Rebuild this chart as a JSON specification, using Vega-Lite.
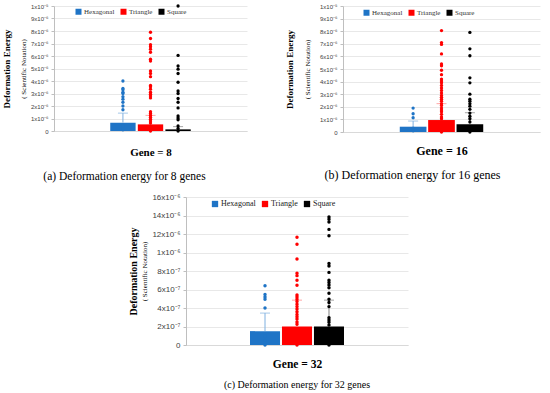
{
  "$schema": "https://vega.github.io/schema/vega-lite/v6.json",
  "background": "white",
  "padding": {"left": 2, "top": 3, "right": 2, "bottom": 2},
  "config": {
    "view": {"stroke": null},
    "axis": {"labelFont": "Liberation Sans", "titleFont": "Liberation Serif", "titleColor": "#000000"},
    "title": {"font": "Liberation Serif", "color": "#000000"}
  },
  "spacing": 10,
  "center": true,
  "resolve": {"scale": {"x": "independent", "y": "independent", "color": "independent", "stroke": "independent", "fill": "independent"}, "legend": {"color": "independent"}},
  "vconcat": [
    {
      "spacing": 38,
      "resolve": {"scale": {"x": "independent", "y": "independent", "color": "independent", "stroke": "independent", "fill": "independent"}, "legend": {"color": "independent"}},
      "hconcat": [
        {
          "width": 193,
          "height": 125,
          "title": {"text": "(a) Deformation energy for 8 genes", "orient": "bottom", "frame": "bounds", "font": "Liberation Serif", "fontSize": 11.5, "fontWeight": "normal", "offset": 14},
          "resolve": {"axis": {"y": "independent"}},
          "encoding": {
            "x": {"field": "shape", "type": "nominal", "scale": {"domain": ["_1", "_2", "Hexagonal", "Triangle", "Square", "_3", "_4"], "paddingInner": 0.08, "paddingOuter": 0.04}, "axis": {"title": "Gene = 8", "labels": false, "ticks": false, "domainColor": "#d9d9d9", "titleFont": "Liberation Serif", "titleFontSize": 11, "titleFontWeight": "bold", "titlePadding": 15}}
          },
          "layer": [
            {
              "data": {"values": [{"shape": "Hexagonal", "mean": 0.67, "upper": 1.43}, {"shape": "Triangle", "mean": 0.53, "upper": 1.25}, {"shape": "Square", "mean": 0.13, "upper": 0.35}]},
              "mark": {"type": "bar"},
              "encoding": {
                "y": {"field": "mean", "type": "quantitative", "scale": {"domain": [0, 10], "nice": false}, "axis": {"values": [0, 1, 2, 3, 4, 5, 6, 7, 8, 9, 10], "labelExpr": "datum.value == 0 ? '0' : datum.value == 10 ? '1x10⁻⁵' : datum.value + 'x10⁻⁶'", "labelFontSize": 6, "labelColor": "#404040", "labelPadding": 3, "tickSize": 3, "tickColor": "#bfbfbf", "domainColor": "#bfbfbf", "grid": true, "gridColor": "#e8e8e8", "title": "( Scientific Notation)", "titleFont": "Liberation Serif", "titleFontSize": 7, "titleFontWeight": "normal", "titlePadding": 4}},
                "color": {"field": "shape", "type": "nominal", "scale": {"domain": ["Hexagonal", "Triangle", "Square"], "range": ["#1f74c6", "#ff0000", "#000000"]}, "legend": {"orient": "none", "legendX": 21, "legendY": 2, "direction": "horizontal", "title": null, "symbolType": "square", "symbolSize": 36, "symbolStrokeWidth": 0, "labelFont": "Liberation Serif", "labelFontSize": 7, "labelColor": "#333333", "labelOffset": 2, "columnPadding": 5}}
              }
            },
            {
              "data": {"values": [{"shape": "Hexagonal", "mean": 0.67, "upper": 1.43}, {"shape": "Triangle", "mean": 0.53, "upper": 1.25}, {"shape": "Square", "mean": 0.13, "upper": 0.35}]},
              "mark": {"type": "rule", "strokeWidth": 1},
              "encoding": {
                "y": {"field": "mean", "type": "quantitative", "axis": null},
                "y2": {"field": "upper"},
                "stroke": {"field": "shape", "type": "nominal", "scale": {"domain": ["Hexagonal", "Triangle", "Square"], "range": ["#7fb0e0", "#ff8080", "#808080"]}, "legend": null}
              }
            },
            {
              "data": {"values": [{"shape": "Hexagonal", "mean": 0.67, "upper": 1.43}, {"shape": "Triangle", "mean": 0.53, "upper": 1.25}, {"shape": "Square", "mean": 0.13, "upper": 0.35}]},
              "mark": {"type": "tick", "size": 10, "thickness": 1},
              "encoding": {
                "y": {"field": "upper", "type": "quantitative", "axis": null},
                "fill": {"field": "shape", "type": "nominal", "scale": {"domain": ["Hexagonal", "Triangle", "Square"], "range": ["#7fb0e0", "#ff8080", "#808080"]}, "legend": null}
              }
            },
            {
              "data": {"values": [
                {"shape": "Hexagonal", "v": 4.0}, {"shape": "Hexagonal", "v": 3.4}, {"shape": "Hexagonal", "v": 3.3}, {"shape": "Hexagonal", "v": 3.1}, {"shape": "Hexagonal", "v": 3.0}, {"shape": "Hexagonal", "v": 2.75}, {"shape": "Hexagonal", "v": 2.55}, {"shape": "Hexagonal", "v": 2.3}, {"shape": "Hexagonal", "v": 2.0}, {"shape": "Hexagonal", "v": 1.7}, {"shape": "Hexagonal", "v": 0.4}, {"shape": "Hexagonal", "v": 0.1},
                {"shape": "Triangle", "v": 7.9}, {"shape": "Triangle", "v": 7.4}, {"shape": "Triangle", "v": 6.9}, {"shape": "Triangle", "v": 6.75}, {"shape": "Triangle", "v": 6.55}, {"shape": "Triangle", "v": 6.3}, {"shape": "Triangle", "v": 5.75}, {"shape": "Triangle", "v": 5.6}, {"shape": "Triangle", "v": 4.8}, {"shape": "Triangle", "v": 4.6}, {"shape": "Triangle", "v": 4.35}, {"shape": "Triangle", "v": 3.65}, {"shape": "Triangle", "v": 3.55}, {"shape": "Triangle", "v": 3.35}, {"shape": "Triangle", "v": 3.1}, {"shape": "Triangle", "v": 2.95}, {"shape": "Triangle", "v": 2.8}, {"shape": "Triangle", "v": 2.65}, {"shape": "Triangle", "v": 1.55}, {"shape": "Triangle", "v": 1.4}, {"shape": "Triangle", "v": 1.25}, {"shape": "Triangle", "v": 1.1}, {"shape": "Triangle", "v": 0.95}, {"shape": "Triangle", "v": 0.8}, {"shape": "Triangle", "v": 0.65}, {"shape": "Triangle", "v": 0.4}, {"shape": "Triangle", "v": 0.15}, {"shape": "Triangle", "v": 0.0},
                {"shape": "Square", "v": 10.0}, {"shape": "Square", "v": 6.05}, {"shape": "Square", "v": 5.2}, {"shape": "Square", "v": 4.95}, {"shape": "Square", "v": 4.6}, {"shape": "Square", "v": 3.9}, {"shape": "Square", "v": 3.2}, {"shape": "Square", "v": 3.0}, {"shape": "Square", "v": 2.6}, {"shape": "Square", "v": 2.3}, {"shape": "Square", "v": 1.85}, {"shape": "Square", "v": 1.2}, {"shape": "Square", "v": 1.05}, {"shape": "Square", "v": 0.9}, {"shape": "Square", "v": 0.4}, {"shape": "Square", "v": 0.2}, {"shape": "Square", "v": 0.0}
              ]},
              "mark": {"type": "point", "shape": "circle", "filled": true, "size": 11, "opacity": 1},
              "encoding": {
                "y": {"field": "v", "type": "quantitative", "axis": {"orient": "left", "labels": false, "ticks": false, "domain": false, "grid": false, "title": "Deformation Energy", "titleFont": "Liberation Serif", "titleFontSize": 9, "titleFontWeight": "bold", "titlePadding": 43}},
                "color": {"field": "shape", "type": "nominal", "scale": {"domain": ["Hexagonal", "Triangle", "Square"], "range": ["#1f74c6", "#ff0000", "#000000"]}, "legend": {"orient": "none", "legendX": 21, "legendY": 2, "direction": "horizontal", "title": null, "symbolType": "square", "symbolSize": 36, "symbolStrokeWidth": 0, "labelFont": "Liberation Serif", "labelFontSize": 7, "labelColor": "#333333", "labelOffset": 2, "columnPadding": 5}}
              }
            }
          ]
        },
        {
          "width": 197,
          "height": 126,
          "title": {"text": "(b) Deformation energy for 16 genes", "orient": "bottom", "frame": "bounds", "font": "Liberation Serif", "fontSize": 12, "fontWeight": "normal", "offset": 14},
          "resolve": {"axis": {"y": "independent"}},
          "encoding": {
            "x": {"field": "shape", "type": "nominal", "scale": {"domain": ["_1", "_2", "Hexagonal", "Triangle", "Square", "_3", "_4"], "paddingInner": 0.06, "paddingOuter": 0.0}, "axis": {"title": "Gene = 16", "labels": false, "ticks": false, "domainColor": "#d9d9d9", "titleFont": "Liberation Serif", "titleFontSize": 12, "titleFontWeight": "bold", "titlePadding": 13}}
          },
          "layer": [
            {
              "data": {"values": [{"shape": "Hexagonal", "mean": 0.42, "upper": 0.87}, {"shape": "Triangle", "mean": 0.95, "upper": 2.25}, {"shape": "Square", "mean": 0.62, "upper": 1.53}]},
              "mark": {"type": "bar"},
              "encoding": {
                "y": {"field": "mean", "type": "quantitative", "scale": {"domain": [0, 10], "nice": false}, "axis": {"values": [0, 1, 2, 3, 4, 5, 6, 7, 8, 9, 10], "labelExpr": "datum.value == 0 ? '0' : datum.value == 10 ? '1x10⁻⁵' : datum.value + 'x10⁻⁶'", "labelFontSize": 6, "labelColor": "#404040", "labelPadding": 3, "tickSize": 3, "tickColor": "#bfbfbf", "domainColor": "#bfbfbf", "grid": true, "gridColor": "#e8e8e8", "title": "( Scientific Notation)", "titleFont": "Liberation Serif", "titleFontSize": 7, "titleFontWeight": "normal", "titlePadding": 9}},
                "color": {"field": "shape", "type": "nominal", "scale": {"domain": ["Hexagonal", "Triangle", "Square"], "range": ["#1f74c6", "#ff0000", "#000000"]}, "legend": {"orient": "none", "legendX": 20, "legendY": 3, "direction": "horizontal", "title": null, "symbolType": "square", "symbolSize": 36, "symbolStrokeWidth": 0, "labelFont": "Liberation Serif", "labelFontSize": 7, "labelColor": "#333333", "labelOffset": 2, "columnPadding": 5}}
              }
            },
            {
              "data": {"values": [{"shape": "Hexagonal", "mean": 0.42, "upper": 0.87}, {"shape": "Triangle", "mean": 0.95, "upper": 2.25}, {"shape": "Square", "mean": 0.62, "upper": 1.53}]},
              "mark": {"type": "rule", "strokeWidth": 1},
              "encoding": {
                "y": {"field": "mean", "type": "quantitative", "axis": null},
                "y2": {"field": "upper"},
                "stroke": {"field": "shape", "type": "nominal", "scale": {"domain": ["Hexagonal", "Triangle", "Square"], "range": ["#7fb0e0", "#ff8080", "#808080"]}, "legend": null}
              }
            },
            {
              "data": {"values": [{"shape": "Hexagonal", "mean": 0.42, "upper": 0.87}, {"shape": "Triangle", "mean": 0.95, "upper": 2.25}, {"shape": "Square", "mean": 0.62, "upper": 1.53}]},
              "mark": {"type": "tick", "size": 10, "thickness": 1},
              "encoding": {
                "y": {"field": "upper", "type": "quantitative", "axis": null},
                "fill": {"field": "shape", "type": "nominal", "scale": {"domain": ["Hexagonal", "Triangle", "Square"], "range": ["#7fb0e0", "#ff8080", "#808080"]}, "legend": null}
              }
            },
            {
              "data": {"values": [
                {"shape": "Hexagonal", "v": 1.9}, {"shape": "Hexagonal", "v": 1.45}, {"shape": "Hexagonal", "v": 1.13}, {"shape": "Hexagonal", "v": 0.3}, {"shape": "Hexagonal", "v": 0.1},
                {"shape": "Triangle", "v": 8.05}, {"shape": "Triangle", "v": 7.1}, {"shape": "Triangle", "v": 6.95}, {"shape": "Triangle", "v": 6.2}, {"shape": "Triangle", "v": 5.4}, {"shape": "Triangle", "v": 5.25}, {"shape": "Triangle", "v": 4.9}, {"shape": "Triangle", "v": 4.55}, {"shape": "Triangle", "v": 4.2}, {"shape": "Triangle", "v": 4.05}, {"shape": "Triangle", "v": 3.9}, {"shape": "Triangle", "v": 3.7}, {"shape": "Triangle", "v": 3.5}, {"shape": "Triangle", "v": 3.3}, {"shape": "Triangle", "v": 3.1}, {"shape": "Triangle", "v": 2.9}, {"shape": "Triangle", "v": 2.75}, {"shape": "Triangle", "v": 2.6}, {"shape": "Triangle", "v": 2.45}, {"shape": "Triangle", "v": 2.25}, {"shape": "Triangle", "v": 2.1}, {"shape": "Triangle", "v": 1.9}, {"shape": "Triangle", "v": 1.75}, {"shape": "Triangle", "v": 1.6}, {"shape": "Triangle", "v": 1.4}, {"shape": "Triangle", "v": 1.2}, {"shape": "Triangle", "v": 1.05}, {"shape": "Triangle", "v": 0.7}, {"shape": "Triangle", "v": 0.45}, {"shape": "Triangle", "v": 0.2}, {"shape": "Triangle", "v": 0.0},
                {"shape": "Square", "v": 7.9}, {"shape": "Square", "v": 6.6}, {"shape": "Square", "v": 6.05}, {"shape": "Square", "v": 4.3}, {"shape": "Square", "v": 3.9}, {"shape": "Square", "v": 3.0}, {"shape": "Square", "v": 2.6}, {"shape": "Square", "v": 2.45}, {"shape": "Square", "v": 2.25}, {"shape": "Square", "v": 2.05}, {"shape": "Square", "v": 1.8}, {"shape": "Square", "v": 1.5}, {"shape": "Square", "v": 1.25}, {"shape": "Square", "v": 1.05}, {"shape": "Square", "v": 0.8}, {"shape": "Square", "v": 0.45}, {"shape": "Square", "v": 0.2}, {"shape": "Square", "v": 0.0}
              ]},
              "mark": {"type": "point", "shape": "circle", "filled": true, "size": 11, "opacity": 1},
              "encoding": {
                "y": {"field": "v", "type": "quantitative", "axis": {"orient": "left", "labels": false, "ticks": false, "domain": false, "grid": false, "title": "Deformation Energy", "titleFont": "Liberation Serif", "titleFontSize": 9, "titleFontWeight": "bold", "titlePadding": 49}},
                "color": {"field": "shape", "type": "nominal", "scale": {"domain": ["Hexagonal", "Triangle", "Square"], "range": ["#1f74c6", "#ff0000", "#000000"]}, "legend": {"orient": "none", "legendX": 20, "legendY": 3, "direction": "horizontal", "title": null, "symbolType": "square", "symbolSize": 36, "symbolStrokeWidth": 0, "labelFont": "Liberation Serif", "labelFontSize": 7, "labelColor": "#333333", "labelOffset": 2, "columnPadding": 5}}
              }
            }
          ]
        }
      ]
    },
    {
      "width": 222,
      "height": 148,
      "title": {"text": "(c) Deformation energy for 32 genes", "orient": "bottom", "font": "Liberation Serif", "fontSize": 10, "fontWeight": "normal", "offset": 10},
      "resolve": {"axis": {"y": "independent"}},
      "encoding": {
        "x": {"field": "shape", "type": "nominal", "scale": {"domain": ["_1", "_2", "Hexagonal", "Triangle", "Square", "_3", "_4"], "paddingInner": 0.06, "paddingOuter": 0.0}, "axis": {"title": "Gene = 32", "labels": false, "ticks": false, "domainColor": "#d9d9d9", "titleFont": "Liberation Serif", "titleFontSize": 11.5, "titleFontWeight": "bold", "titlePadding": 13}}
      },
      "layer": [
        {
          "data": {"values": [{"shape": "Hexagonal", "mean": 1.5, "upper": 3.45}, {"shape": "Triangle", "mean": 2.0, "upper": 4.85}, {"shape": "Square", "mean": 2.0, "upper": 4.85}]},
          "mark": {"type": "bar"},
          "encoding": {
            "y": {"field": "mean", "type": "quantitative", "scale": {"domain": [0, 16], "nice": false}, "axis": {"values": [0, 2, 4, 6, 8, 10, 12, 14, 16], "labelExpr": "datum.value == 0 ? '0' : datum.value == 10 ? '1x10⁻⁶' : datum.value < 10 ? datum.value + 'x10⁻⁷' : datum.value + 'x10⁻⁶'", "labelFontSize": 8, "labelColor": "#404040", "labelPadding": 3, "tickSize": 3, "tickColor": "#bfbfbf", "domainColor": "#bfbfbf", "grid": true, "gridColor": "#e8e8e8", "title": "( Scientific Notation)", "titleFont": "Liberation Serif", "titleFontSize": 7, "titleFontWeight": "normal", "titlePadding": 4}},
            "color": {"field": "shape", "type": "nominal", "scale": {"domain": ["Hexagonal", "Triangle", "Square"], "range": ["#1f74c6", "#ff0000", "#000000"]}, "legend": {"orient": "none", "legendX": 25, "legendY": 3, "direction": "horizontal", "title": null, "symbolType": "square", "symbolSize": 40, "symbolStrokeWidth": 0, "labelFont": "Liberation Serif", "labelFontSize": 8, "labelColor": "#222222", "labelOffset": 2, "columnPadding": 5}}
          }
        },
        {
          "data": {"values": [{"shape": "Hexagonal", "mean": 1.5, "upper": 3.45}, {"shape": "Triangle", "mean": 2.0, "upper": 4.85}, {"shape": "Square", "mean": 2.0, "upper": 4.85}]},
          "mark": {"type": "rule", "strokeWidth": 1},
          "encoding": {
            "y": {"field": "mean", "type": "quantitative", "axis": null},
            "y2": {"field": "upper"},
            "stroke": {"field": "shape", "type": "nominal", "scale": {"domain": ["Hexagonal", "Triangle", "Square"], "range": ["#7fb0e0", "#ff8080", "#808080"]}, "legend": null}
          }
        },
        {
          "data": {"values": [{"shape": "Hexagonal", "mean": 1.5, "upper": 3.45}, {"shape": "Triangle", "mean": 2.0, "upper": 4.85}, {"shape": "Square", "mean": 2.0, "upper": 4.85}]},
          "mark": {"type": "tick", "size": 10, "thickness": 1},
          "encoding": {
            "y": {"field": "upper", "type": "quantitative", "axis": null},
            "fill": {"field": "shape", "type": "nominal", "scale": {"domain": ["Hexagonal", "Triangle", "Square"], "range": ["#7fb0e0", "#ff8080", "#808080"]}, "legend": null}
          }
        },
        {
          "data": {"values": [
            {"shape": "Hexagonal", "v": 6.4}, {"shape": "Hexagonal", "v": 5.45}, {"shape": "Hexagonal", "v": 5.2}, {"shape": "Hexagonal", "v": 4.95}, {"shape": "Hexagonal", "v": 4.0}, {"shape": "Hexagonal", "v": 1.0}, {"shape": "Hexagonal", "v": 0.5}, {"shape": "Hexagonal", "v": 0.0},
            {"shape": "Triangle", "v": 11.65}, {"shape": "Triangle", "v": 10.9}, {"shape": "Triangle", "v": 9.3}, {"shape": "Triangle", "v": 7.75}, {"shape": "Triangle", "v": 7.5}, {"shape": "Triangle", "v": 7.0}, {"shape": "Triangle", "v": 6.45}, {"shape": "Triangle", "v": 5.4}, {"shape": "Triangle", "v": 5.2}, {"shape": "Triangle", "v": 4.95}, {"shape": "Triangle", "v": 4.7}, {"shape": "Triangle", "v": 4.4}, {"shape": "Triangle", "v": 4.15}, {"shape": "Triangle", "v": 3.9}, {"shape": "Triangle", "v": 3.6}, {"shape": "Triangle", "v": 3.3}, {"shape": "Triangle", "v": 3.05}, {"shape": "Triangle", "v": 2.8}, {"shape": "Triangle", "v": 2.5}, {"shape": "Triangle", "v": 2.25}, {"shape": "Triangle", "v": 1.0}, {"shape": "Triangle", "v": 0.0},
            {"shape": "Square", "v": 13.85}, {"shape": "Square", "v": 13.6}, {"shape": "Square", "v": 13.3}, {"shape": "Square", "v": 12.5}, {"shape": "Square", "v": 11.8}, {"shape": "Square", "v": 8.8}, {"shape": "Square", "v": 8.55}, {"shape": "Square", "v": 7.85}, {"shape": "Square", "v": 7.0}, {"shape": "Square", "v": 6.75}, {"shape": "Square", "v": 6.5}, {"shape": "Square", "v": 6.2}, {"shape": "Square", "v": 5.6}, {"shape": "Square", "v": 4.95}, {"shape": "Square", "v": 4.6}, {"shape": "Square", "v": 4.15}, {"shape": "Square", "v": 2.95}, {"shape": "Square", "v": 2.7}, {"shape": "Square", "v": 2.45}, {"shape": "Square", "v": 2.15}, {"shape": "Square", "v": 1.0}, {"shape": "Square", "v": 0.0}
          ]},
          "mark": {"type": "point", "shape": "circle", "filled": true, "size": 12, "opacity": 1},
          "encoding": {
            "y": {"field": "v", "type": "quantitative", "axis": {"orient": "left", "labels": false, "ticks": false, "domain": false, "grid": false, "title": "Deformation Energy", "titleFont": "Liberation Serif", "titleFontSize": 10, "titleFontWeight": "bold", "titlePadding": 48}},
            "color": {"field": "shape", "type": "nominal", "scale": {"domain": ["Hexagonal", "Triangle", "Square"], "range": ["#1f74c6", "#ff0000", "#000000"]}, "legend": {"orient": "none", "legendX": 25, "legendY": 3, "direction": "horizontal", "title": null, "symbolType": "square", "symbolSize": 40, "symbolStrokeWidth": 0, "labelFont": "Liberation Serif", "labelFontSize": 8, "labelColor": "#222222", "labelOffset": 2, "columnPadding": 5}}
          }
        }
      ]
    }
  ]
}
